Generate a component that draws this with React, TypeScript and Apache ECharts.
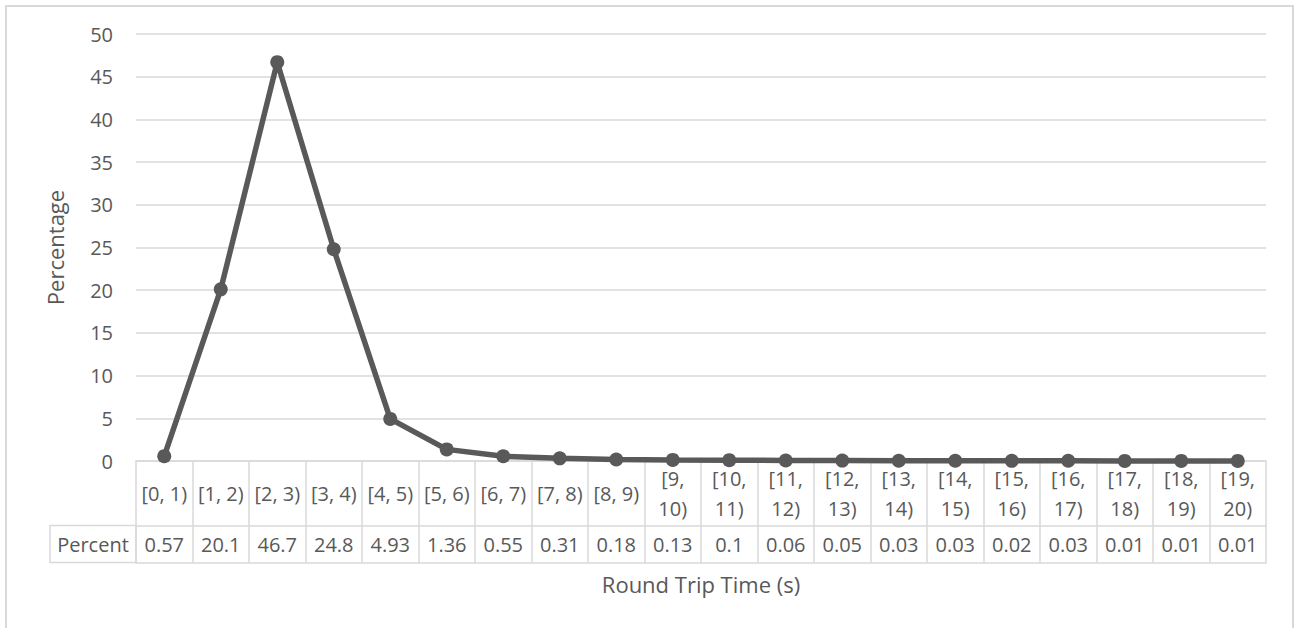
import React, { useEffect, useRef } from "react";
import * as echarts from "echarts";

const categories = [
  "[0, 1)", "[1, 2)", "[2, 3)", "[3, 4)", "[4, 5)", "[5, 6)", "[6, 7)", "[7, 8)", "[8, 9)", "[9, 10)",
  "[10, 11)", "[11, 12)", "[12, 13)", "[13, 14)", "[14, 15)", "[15, 16)", "[16, 17)", "[17, 18)", "[18, 19)", "[19, 20)",
];
const percentValues = [
  0.57, 20.1, 46.7, 24.8, 4.93, 1.36, 0.55, 0.31, 0.18, 0.13,
  0.1, 0.06, 0.05, 0.03, 0.03, 0.02, 0.03, 0.01, 0.01, 0.01,
];
const seriesName = "Percent";
const xTitle = "Round Trip Time (s)";
const yTitle = "Percentage";

const TEXT = "#595959";
const GRIDC = "#d9d9d9";
const FONT = "Open Sans";

export default function App() {
  const ref = useRef<HTMLDivElement>(null);
  useEffect(() => {
    if (!ref.current) return;
    const chart = echarts.init(ref.current, null, { renderer: "svg" });
    chart.setOption({
      animation: false,
      textStyle: { fontFamily: FONT, color: TEXT },
      grid: { left: 136, right: 32, top: 34, height: 427, containLabel: false },
      xAxis: [
        {
          type: "category",
          data: categories,
          position: "bottom",
          boundaryGap: true,
          axisLine: { show: true, lineStyle: { color: GRIDC, width: 1.5 } },
          axisTick: { show: true, interval: 0, length: 102, lineStyle: { color: GRIDC, width: 1.5 } },
          axisLabel: {
            interval: 0,
            margin: 32.5,
            verticalAlign: "middle",
            fontSize: 20,
            lineHeight: 30,
            color: TEXT,
            fontFamily: FONT,
            formatter: (v: string) => (v.length > 6 ? v.replace(", ", ",\n") : v),
          },
        },
        {
          type: "category",
          data: categories,
          position: "bottom",
          offset: 65,
          boundaryGap: true,
          axisLine: { show: true, lineStyle: { color: GRIDC, width: 1.5 } },
          axisTick: { show: false },
          axisLabel: {
            interval: 0,
            margin: 18.5,
            verticalAlign: "middle",
            fontSize: 20,
            color: TEXT,
            fontFamily: FONT,
            formatter: (_v: string, i: number) => String(percentValues[i]),
          },
        },
        {
          type: "category",
          data: categories,
          position: "bottom",
          offset: 102,
          boundaryGap: true,
          axisLine: { show: true, lineStyle: { color: GRIDC, width: 1.5 } },
          axisTick: { show: false },
          axisLabel: { show: false },
          name: xTitle,
          nameLocation: "middle",
          nameGap: 21,
          nameTextStyle: { fontSize: 22, color: TEXT, fontFamily: FONT, verticalAlign: "middle" },
        },
      ],
      yAxis: {
        type: "value",
        min: 0,
        max: 50,
        interval: 5,
        axisLine: { show: false },
        axisTick: { show: false },
        splitLine: { show: true, lineStyle: { color: GRIDC, width: 1.5 } },
        axisLabel: { fontSize: 20, color: TEXT, margin: 23, fontFamily: FONT },
        name: yTitle,
        nameLocation: "middle",
        nameGap: 81,
        nameTextStyle: { fontSize: 22, color: TEXT, fontFamily: FONT, verticalAlign: "middle" },
      },
      series: [
        {
          name: seriesName,
          type: "line",
          data: percentValues,
          xAxisIndex: 0,
          symbol: "circle",
          symbolSize: 14,
          clip: false,
          lineStyle: { color: TEXT, width: 5.5 },
          itemStyle: { color: TEXT },
          z: 5,
        },
      ],
      graphic: [
        {
          type: "rect",
          shape: { x: 6, y: 6, width: 1287, height: 700 },
          style: { fill: "none", stroke: GRIDC, lineWidth: 2 },
          silent: true,
        },
        {
          type: "rect",
          shape: { x: 50, y: 525.5, width: 86, height: 37 },
          style: { fill: "none", stroke: GRIDC, lineWidth: 1.5 },
          silent: true,
        },
        {
          type: "text",
          x: 93,
          y: 544,
          style: {
            text: seriesName,
            fill: TEXT,
            fontSize: 20,
            fontFamily: FONT,
            align: "center",
            verticalAlign: "middle",
          },
          silent: true,
        },
      ],
    });
    return () => chart.dispose();
  }, []);
  return (
    <div
      ref={ref}
      style={{ position: "fixed", left: 0, top: 0, width: 1298, height: 628, background: "#fff" }}
    />
  );
}
